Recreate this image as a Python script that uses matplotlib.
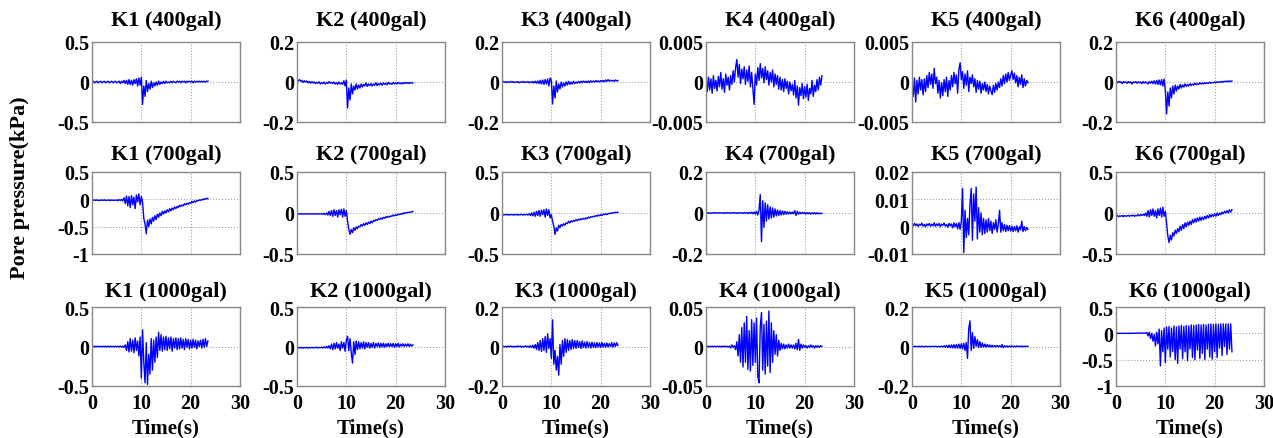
import numpy as np
import matplotlib.pyplot as plt

plt.rcParams['font.family'] = ['Liberation Serif', 'DejaVu Serif']
plt.rcParams['font.weight'] = 'bold'

# time axis, 0.25 s sampling, 0 - 23.5 s
t = np.arange(95) * 0.25

# ---------------- 400 gal ----------------
k1_400 = [0.00, 0.01, -0.01, 0.00, 0.01, -0.01, 0.00, 0.01, -0.01, 0.00,
          0.01, -0.01, 0.00, 0.01, -0.01, 0.00, 0.01, -0.01, 0.00, 0.01,
          -0.01, 0.00, 0.01, -0.02, 0.01, -0.01, 0.02, -0.02, 0.02, -0.03,
          0.03, -0.03, 0.02, -0.04, 0.03, -0.02, 0.04, -0.05, 0.05, -0.04,
          0.06, -0.28, -0.05, -0.18, 0.02, -0.12, -0.02, -0.09, 0.01, -0.07,
          -0.01, -0.05, 0.00, -0.04, 0.01, -0.03, 0.00, -0.02, 0.01, -0.02,
          0.01, -0.01, 0.00, -0.01, 0.01, -0.01, 0.01, 0.00, -0.01, 0.01,
          0.00, 0.01, -0.01, 0.01, 0.00, 0.01, -0.01, 0.01, 0.00, 0.01,
          0.00, 0.01, -0.01, 0.01, 0.00, 0.01, 0.00, 0.01, 0.00, 0.01,
          0.00, 0.01, 0.00, 0.01, 0.01]
k2_400 = [0.01, 0.005, 0.012, 0.004, 0.008, -0.002, 0.006, 0.0, 0.005, -0.004,
          0.003, -0.006, 0.002, -0.004, 0.0, -0.008, -0.002, -0.006, 0.001, -0.01,
          -0.004, -0.008, 0.0, -0.01, -0.003, -0.007, 0.002, -0.006, -0.002, -0.008,
          0.0, -0.01, -0.003, -0.012, 0.0, -0.01, -0.004, -0.012, 0.006, -0.02,
          0.01, -0.13, -0.03, -0.09, -0.01, -0.06, -0.02, -0.04, -0.01, -0.035,
          -0.015, -0.03, -0.01, -0.025, -0.012, -0.02, -0.005, -0.022, -0.01, -0.018,
          -0.008, -0.02, -0.01, -0.016, -0.004, -0.018, -0.008, -0.014, -0.006, -0.016,
          -0.004, -0.012, -0.006, -0.014, -0.002, -0.01, -0.006, -0.012, -0.003, -0.009,
          -0.004, -0.01, -0.002, -0.008, -0.005, -0.01, -0.003, -0.008, -0.002, -0.007,
          -0.003, -0.008, -0.002, -0.006, -0.004]
k3_400 = [0.0, 0.003, -0.002, 0.002, -0.003, 0.001, -0.002, 0.003, -0.001, 0.002,
          -0.003, 0.001, -0.002, 0.002, -0.004, 0.0, -0.002, 0.003, -0.003, 0.001,
          -0.002, 0.002, -0.004, 0.001, -0.003, 0.003, -0.005, 0.004, -0.006, 0.005,
          -0.008, 0.008, -0.01, 0.01, -0.012, 0.012, -0.01, 0.015, -0.02, 0.02,
          0.01, -0.11, -0.02, -0.08, 0.005, -0.05, -0.01, -0.035, 0.0, -0.025,
          -0.005, -0.02, 0.0, -0.015, 0.003, -0.012, 0.0, -0.01, 0.004, -0.008,
          0.0, -0.006, 0.003, -0.005, 0.004, -0.004, 0.005, -0.002, 0.004, -0.003,
          0.005, -0.002, 0.006, 0.0, 0.005, -0.001, 0.007, 0.001, 0.006, 0.0,
          0.007, 0.002, 0.008, 0.001, 0.01, 0.003, 0.012, 0.004, 0.009, 0.005,
          0.008, 0.003, 0.01, 0.005, 0.008]
k4_400 = [-0.0002, -0.0012, 0.0006, -0.0010, 0.0004, -0.0014, 0.0008, -0.0008, 0.0002, -0.0011,
          0.0007, -0.0006, 0.0012, -0.0009, 0.0004, -0.0013, 0.0010, -0.0004, 0.0006, -0.0010,
          0.0008, -0.0003, 0.0014, 0.0000, 0.0018, 0.0028, 0.0006, 0.0022, -0.0002, 0.0016,
          0.0004, 0.0019, -0.0003, 0.0015, 0.0001, 0.0020, -0.0006, 0.0012, -0.0008, -0.0028,
          0.0010, -0.0004, 0.0018, 0.0002, 0.0023, 0.0005, 0.0017, -0.0001, 0.0019, 0.0003,
          0.0014, -0.0004, 0.0012, 0.0000, 0.0015, -0.0006, 0.0010, -0.0003, 0.0008, -0.0009,
          0.0006, -0.0010, 0.0003, -0.0012, 0.0004, -0.0008, 0.0001, -0.0015, 0.0000, -0.0011,
          -0.0003, -0.0016, 0.0002, -0.0020, -0.0005, -0.0029, -0.0007, -0.0017, -0.0002, -0.0021,
          -0.0006, -0.0019, -0.0003, -0.0023, -0.0008, -0.0015, 0.0002, -0.0018, -0.0004, -0.0012,
          0.0003, -0.0010, 0.0006, -0.0004, 0.0008]
k5_400 = [-0.0004, -0.0018, 0.0005, -0.0025, 0.0002, -0.0015, 0.0006, -0.0010, 0.0003, -0.0016,
          0.0004, -0.0012, 0.0008, -0.0007, 0.0012, -0.0003, 0.0010, -0.0008, 0.0017, -0.0002,
          0.0006, -0.0014, 0.0002, -0.0020, -0.0001, -0.0017, 0.0003, -0.0012, 0.0006, -0.0018,
          0.0002, -0.0010, 0.0008, -0.0006, 0.0012, -0.0002, 0.0009, -0.0014, 0.0015, 0.0024,
          0.0003, 0.0013, -0.0008, 0.0010, -0.0004, 0.0014, -0.0012, 0.0006, -0.0002, 0.0009,
          -0.0006, 0.0004, -0.0013, 0.0002, -0.0009, 0.0001, -0.0014, -0.0002, -0.0010, 0.0000,
          -0.0012, -0.0003, -0.0015, -0.0005, -0.0011, -0.0016, -0.0004, -0.0013, -0.0002, -0.0010,
          0.0000, -0.0007, 0.0004, -0.0005, 0.0008, -0.0002, 0.0010, 0.0000, 0.0012, 0.0002,
          0.0009, 0.0014, 0.0003, 0.0011, -0.0001, 0.0008, -0.0006, 0.0006, -0.0003, 0.0009,
          -0.0007, 0.0004, -0.0005, 0.0002, -0.0001]
k6_400 = [0.002, -0.004, 0.003, -0.002, 0.001, -0.008, 0.002, -0.003, 0.0, -0.006,
          0.002, -0.004, 0.001, -0.01, 0.0, -0.003, 0.002, -0.006, 0.001, -0.004,
          0.0, -0.008, 0.002, -0.005, 0.001, -0.004, -0.01, 0.002, -0.006, 0.004,
          -0.008, 0.006, -0.01, 0.008, -0.012, 0.01, -0.015, 0.012, -0.02, 0.015,
          -0.04, -0.16, -0.05, -0.12, -0.03, -0.08, -0.02, -0.06, -0.015, -0.045,
          -0.02, -0.035, -0.012, -0.03, -0.015, -0.025, -0.01, -0.022, -0.012, -0.02,
          -0.008, -0.018, -0.01, -0.015, -0.006, -0.014, -0.008, -0.012, -0.004, -0.01,
          -0.005, -0.01, -0.003, -0.008, -0.004, -0.007, -0.001, -0.006, -0.002, -0.004,
          0.0, -0.004, 0.001, -0.002, 0.002, -0.002, 0.003, 0.0, 0.004, 0.001,
          0.005, 0.001, 0.006, 0.002, 0.005]

# ---------------- 700 gal ----------------
k1_700 = [-0.01, -0.02, -0.01, -0.02, -0.01, -0.02, -0.015, -0.02, -0.01, -0.02,
          -0.01, -0.02, -0.015, -0.02, -0.01, -0.025, -0.01, -0.02, -0.015, -0.02,
          -0.01, -0.025, -0.005, -0.02, 0.0, -0.03, 0.03, -0.08, 0.06, -0.12,
          0.05, -0.15, 0.07, -0.1, 0.04, -0.17, 0.08, -0.05, 0.1, -0.1,
          0.05, -0.05, -0.35, -0.45, -0.63, -0.38, -0.5, -0.36, -0.45, -0.33,
          -0.4, -0.3, -0.37, -0.27, -0.33, -0.25, -0.3, -0.22, -0.27, -0.21,
          -0.25, -0.19, -0.23, -0.17, -0.21, -0.16, -0.19, -0.14, -0.17, -0.13,
          -0.15, -0.11, -0.13, -0.1, -0.12, -0.08, -0.1, -0.07, -0.09, -0.06,
          -0.07, -0.04, -0.06, -0.03, -0.05, -0.02, -0.03, -0.01, -0.02, 0.0,
          -0.01, 0.01, 0.0, 0.02, 0.01]
k2_700 = [-0.01, -0.015, -0.01, -0.012, -0.008, -0.015, -0.01, -0.012, -0.008, -0.014,
          -0.01, -0.012, -0.008, -0.015, -0.01, -0.012, -0.008, -0.014, -0.01, -0.012,
          -0.008, -0.015, -0.005, -0.02, 0.0, -0.025, 0.02, -0.03, 0.03, -0.04,
          0.04, -0.03, 0.03, -0.05, 0.04, -0.02, 0.045, -0.05, 0.05, -0.04,
          0.03, -0.1, -0.2, -0.26, -0.2, -0.24, -0.18, -0.21, -0.17, -0.19,
          -0.16, -0.17, -0.14, -0.16, -0.13, -0.15, -0.12, -0.14, -0.11, -0.13,
          -0.1, -0.12, -0.09, -0.1, -0.08, -0.09, -0.07, -0.08, -0.06, -0.075,
          -0.055, -0.065, -0.045, -0.055, -0.04, -0.05, -0.035, -0.04, -0.025, -0.035,
          -0.02, -0.03, -0.015, -0.02, -0.01, -0.015, 0.0, -0.01, 0.005, 0.0,
          0.01, 0.005, 0.015, 0.01, 0.02]
k3_700 = [-0.02, -0.025, -0.02, -0.022, -0.018, -0.025, -0.02, -0.022, -0.018, -0.024,
          -0.02, -0.022, -0.018, -0.025, -0.02, -0.022, -0.018, -0.024, -0.02, -0.022,
          -0.015, -0.025, -0.01, -0.03, 0.0, -0.035, 0.01, -0.04, 0.02, -0.03,
          0.03, -0.04, 0.035, -0.02, 0.04, -0.05, 0.05, -0.03, 0.04, -0.06,
          -0.02, -0.1, -0.16, -0.26, -0.18, -0.22, -0.15, -0.18, -0.14, -0.16,
          -0.13, -0.15, -0.12, -0.13, -0.1, -0.12, -0.095, -0.11, -0.09, -0.1,
          -0.08, -0.095, -0.075, -0.085, -0.07, -0.08, -0.065, -0.075, -0.06, -0.07,
          -0.05, -0.06, -0.045, -0.05, -0.04, -0.045, -0.03, -0.04, -0.025, -0.035,
          -0.02, -0.03, -0.015, -0.02, -0.01, -0.02, -0.005, -0.01, 0.0, -0.005,
          0.005, 0.0, 0.01, 0.005, 0.01]
k4_700 = [0.0, 0.002, -0.001, 0.001, -0.002, 0.001, 0.0, 0.002, -0.001, 0.001,
          -0.001, 0.002, 0.0, 0.001, -0.002, 0.001, -0.001, 0.002, 0.0, 0.001,
          -0.002, 0.001, 0.0, 0.002, -0.001, 0.001, -0.002, 0.002, 0.0, 0.001,
          -0.002, 0.003, -0.001, 0.002, -0.003, 0.003, -0.002, 0.004, -0.004, 0.005,
          -0.005, 0.008, -0.01, 0.015, 0.09, -0.14, 0.06, -0.07, 0.05, -0.04,
          0.04, -0.03, 0.03, -0.025, 0.025, -0.02, 0.02, -0.015, 0.015, -0.012,
          0.012, -0.01, 0.01, -0.008, 0.008, -0.006, 0.006, -0.005, 0.005, -0.004,
          0.004, -0.004, 0.012, -0.012, 0.008, -0.006, 0.004, -0.004, 0.003, -0.003,
          0.003, -0.005, 0.002, -0.004, 0.002, -0.006, 0.001, -0.004, 0.002, -0.005,
          0.001, -0.004, 0.0, -0.003, -0.002]
k5_700 = [0.0008, 0.0003, 0.0012, 0.0004, 0.0010, 0.0001, 0.0009, 0.0005, 0.0013, 0.0002,
          0.0008, 0.0000, 0.0010, 0.0004, 0.0012, 0.0002, 0.0009, 0.0003, 0.0014, 0.0001,
          0.0010, 0.0004, 0.0012, 0.0000, 0.0009, 0.0005, 0.0013, 0.0002, 0.0008, -0.0002,
          0.0012, 0.0003, 0.0010, -0.0004, 0.0014, 0.0000, 0.0011, -0.0008, 0.0015, -0.0010,
          0.0020, 0.0140, -0.0095, 0.0060, -0.0040, 0.0030, -0.0030, 0.0080, 0.0140, -0.0050,
          0.0120, 0.0020, 0.0145, -0.0045, 0.0070, -0.0020, 0.0050, -0.0030, 0.0030, -0.0025,
          0.0025, -0.0020, 0.0030, -0.0015, 0.0020, -0.0025, 0.0015, -0.0010, 0.0025, -0.0020,
          0.0010, 0.0060, -0.0020, 0.0015, -0.0015, 0.0008, -0.0018, 0.0005, -0.0015, 0.0004,
          -0.0016, 0.0002, -0.0018, 0.0000, -0.0015, 0.0003, -0.0020, 0.0000, -0.0012, 0.0020,
          -0.0018, 0.0000, -0.0015, -0.0003, -0.0010]
k6_700 = [-0.04, -0.03, -0.045, -0.035, -0.04, -0.03, -0.045, -0.03, -0.04, -0.035,
          -0.03, -0.04, -0.03, -0.035, -0.025, -0.04, -0.03, -0.035, -0.02, -0.035,
          -0.02, -0.03, -0.015, -0.03, 0.0, -0.04, 0.03, -0.05, 0.04, -0.03,
          0.05, -0.04, 0.03, -0.06, 0.05, -0.03, 0.06, -0.05, 0.07, -0.04,
          0.02, -0.12, -0.28, -0.36, -0.27, -0.33, -0.24, -0.28, -0.21, -0.25,
          -0.19, -0.23, -0.16, -0.21, -0.14, -0.19, -0.12, -0.17, -0.11, -0.15,
          -0.1, -0.14, -0.08, -0.12, -0.07, -0.11, -0.06, -0.1, -0.05, -0.09,
          -0.05, -0.08, -0.04, -0.07, -0.03, -0.06, -0.02, -0.05, -0.02, -0.04,
          -0.01, -0.04, 0.0, -0.03, 0.0, -0.02, 0.01, -0.01, 0.02, 0.0,
          0.03, 0.0, 0.04, 0.01, 0.04]

# ---------------- 1000 gal ----------------
k1_1000 = [0.0, 0.005, -0.005, 0.003, -0.004, 0.005, -0.003, 0.004, -0.005, 0.003,
           -0.004, 0.005, -0.006, 0.004, -0.005, 0.006, -0.004, 0.003, -0.006, 0.005,
           -0.005, 0.004, -0.006, 0.005, -0.008, 0.006, -0.01, 0.02, -0.05, 0.06,
           -0.07, 0.1, -0.06, 0.08, -0.08, 0.11, -0.05, 0.07, -0.12, 0.12,
           -0.4, 0.21, -0.2, -0.46, 0.05, -0.48, -0.1, -0.35, 0.1, -0.3,
           0.08, -0.2, 0.12, -0.14, 0.18, -0.05, 0.15, -0.06, 0.12, -0.04,
           0.13, -0.05, 0.11, -0.03, 0.12, -0.06, 0.1, -0.02, 0.11, -0.04,
           0.1, -0.03, 0.11, -0.02, 0.09, -0.04, 0.1, -0.01, 0.09, -0.03,
           0.08, -0.02, 0.09, -0.01, 0.08, -0.03, 0.07, 0.0, 0.08, -0.02,
           0.09, -0.01, 0.1, 0.0, 0.07]
k2_1000 = [-0.01, -0.02, -0.012, -0.018, -0.01, -0.02, -0.012, -0.018, -0.01, -0.02,
           -0.012, -0.018, -0.01, -0.02, -0.012, -0.016, -0.008, -0.02, -0.01, -0.015,
           -0.008, -0.02, -0.005, -0.018, 0.0, -0.02, 0.01, -0.03, 0.03, -0.04,
           0.04, -0.03, 0.05, -0.02, 0.03, -0.05, 0.06, -0.02, 0.05, -0.06,
           0.08, 0.13, -0.05, 0.1, -0.08, -0.21, 0.06, -0.1, 0.07, -0.04,
           0.06, -0.03, 0.05, -0.02, 0.06, -0.03, 0.05, -0.01, 0.05, -0.02,
           0.04, -0.01, 0.05, -0.02, 0.04, 0.0, 0.045, -0.01, 0.04, -0.005,
           0.04, -0.01, 0.035, 0.0, 0.04, -0.005, 0.035, 0.0, 0.04, -0.01,
           0.035, 0.0, 0.04, -0.005, 0.03, 0.005, 0.035, 0.0, 0.03, 0.005,
           0.035, 0.0, 0.03, 0.005, 0.02]
k3_1000 = [0.0, 0.002, -0.002, 0.001, -0.003, 0.002, -0.001, 0.003, -0.002, 0.001,
           -0.003, 0.002, -0.002, 0.003, -0.001, 0.002, -0.003, 0.001, -0.002, 0.003,
           -0.002, 0.002, -0.004, 0.004, -0.005, 0.006, -0.008, 0.01, -0.015, 0.02,
           -0.02, 0.03, -0.025, 0.04, -0.02, 0.05, -0.03, 0.065, -0.01, 0.04,
           -0.06, 0.135, -0.09, -0.02, -0.12, -0.05, -0.145, 0.01, -0.09, 0.03,
           -0.05, 0.04, -0.03, 0.035, -0.02, 0.03, -0.015, 0.035, -0.01, 0.03,
           -0.01, 0.03, -0.005, 0.025, -0.01, 0.028, -0.005, 0.022, -0.008, 0.025,
           -0.005, 0.02, -0.008, 0.022, -0.004, 0.018, -0.006, 0.02, -0.003, 0.018,
           -0.005, 0.02, -0.002, 0.016, -0.004, 0.018, -0.002, 0.015, 0.0, 0.02,
           -0.004, 0.018, 0.0, 0.02, 0.005]
k4_1000 = [0.0, 0.0005, -0.0005, 0.0003, -0.0004, 0.0005, -0.0003, 0.0004, -0.0005, 0.0003,
           -0.0004, 0.0005, -0.0006, 0.0004, -0.0005, 0.0006, -0.0004, 0.0003, -0.0006, 0.0005,
           -0.002, 0.002, -0.001, 0.001, -0.004, 0.006, -0.012, 0.015, -0.02, 0.024,
           -0.026, 0.03, -0.02, 0.038, -0.029, 0.02, -0.031, 0.034, -0.024, 0.03,
           -0.02, 0.036, -0.038, -0.046, 0.025, 0.043, -0.03, 0.028, -0.035, 0.032,
           -0.025, 0.045, -0.033, 0.03, -0.02, 0.02, -0.01, 0.015, -0.012, 0.008,
           -0.005, 0.004, -0.003, 0.003, -0.003, 0.002, -0.002, 0.003, -0.002, 0.002,
           -0.002, 0.002, -0.003, 0.004, -0.004, 0.009, -0.005, 0.003, -0.002, 0.002,
           -0.001, 0.001, -0.002, 0.001, -0.001, 0.002, -0.001, 0.001, -0.002, 0.001,
           -0.001, 0.001, -0.001, 0.001, 0.0]
k5_1000 = [0.0, 0.001, -0.001, 0.001, -0.001, 0.0, 0.001, -0.001, 0.001, 0.0,
           -0.001, 0.001, 0.0, -0.001, 0.001, -0.001, 0.0, 0.001, -0.001, 0.001,
           0.0, -0.001, 0.001, -0.002, 0.002, -0.003, 0.004, -0.004, 0.006, -0.005,
           0.007, -0.006, 0.008, -0.007, 0.009, -0.008, 0.01, -0.008, 0.012, -0.01,
           0.014, -0.012, 0.016, -0.02, 0.02, -0.06, 0.09, 0.13, -0.02, 0.07,
           -0.01, 0.05, 0.0, 0.035, -0.005, 0.025, -0.004, 0.018, -0.003, 0.012,
           -0.003, 0.01, -0.002, 0.008, -0.003, 0.006, -0.002, 0.005, -0.002, 0.005,
           -0.002, 0.004, -0.003, 0.01, -0.006, 0.004, -0.002, 0.003, -0.002, 0.003,
           -0.002, 0.003, -0.001, 0.002, -0.002, 0.003, -0.001, 0.002, -0.001, 0.003,
           -0.002, 0.002, -0.001, 0.002, 0.0]
k6_1000 = [0.0, 0.002, -0.002, 0.001, -0.001, 0.002, -0.001, 0.001, -0.002, 0.001,
           0.0, 0.002, -0.001, 0.003, 0.0, 0.004, 0.002, 0.005, 0.003, 0.006,
           0.004, 0.006, 0.003, 0.005, 0.0, 0.02, -0.05, 0.02, -0.1, 0.0,
           -0.15, -0.02, -0.24, 0.02, -0.2, 0.08, -0.62, 0.05, -0.35, 0.1,
           -0.56, 0.12, -0.3, 0.13, -0.45, 0.1, -0.35, 0.14, -0.5, 0.12,
           -0.57, 0.14, -0.3, 0.15, -0.48, 0.13, -0.35, 0.15, -0.52, 0.14,
           -0.3, 0.16, -0.46, 0.15, -0.5, 0.16, -0.32, 0.17, -0.48, 0.16,
           -0.38, 0.17, -0.5, 0.16, -0.3, 0.17, -0.45, 0.18, -0.49, 0.17,
           -0.35, 0.18, -0.46, 0.17, -0.28, 0.18, -0.42, 0.18, -0.25, 0.18,
           -0.4, 0.18, -0.3, 0.18, -0.35]

rows = [
    ('400gal', [k1_400, k2_400, k3_400, k4_400, k5_400, k6_400]),
    ('700gal', [k1_700, k2_700, k3_700, k4_700, k5_700, k6_700]),
    ('1000gal', [k1_1000, k2_1000, k3_1000, k4_1000, k5_1000, k6_1000]),
]

yticks = [
    [[-0.5, 0, 0.5], [-0.2, 0, 0.2], [-0.2, 0, 0.2],
     [-0.005, 0, 0.005], [-0.005, 0, 0.005], [-0.2, 0, 0.2]],
    [[-1, -0.5, 0, 0.5], [-0.5, 0, 0.5], [-0.5, 0, 0.5],
     [-0.2, 0, 0.2], [-0.01, 0, 0.01, 0.02], [-0.5, 0, 0.5]],
    [[-0.5, 0, 0.5], [-0.5, 0, 0.5], [-0.2, 0, 0.2],
     [-0.05, 0, 0.05], [-0.2, 0, 0.2], [-1, -0.5, 0, 0.5]],
]
xticks = [0, 10, 20, 30]

W, H = 1273, 439
fig = plt.figure(figsize=(W / 100, H / 100), dpi=100)

col_left = [92, 297, 502, 706, 912, 1116]
ax_w = 148
row_box = [(43, 123), (173, 255), (308, 387)]
title_pad = [12, 9, 8]


def fmt(v):
    if v == 0:
        return '0'
    return ('%g' % v)


for r, (gal, series) in enumerate(rows):
    top, bot = row_box[r]
    for c, y in enumerate(series):
        ax = fig.add_axes([col_left[c] / W, 1 - bot / H, ax_w / W, (bot - top) / H])
        ax.plot(t, y, color='#0000ff', lw=1.0)
        ax.set_xlim(0, 30)
        yt = yticks[r][c]
        ax.set_ylim(yt[0], yt[-1])
        ax.set_yticks(yt)
        ax.set_yticklabels([fmt(v) for v in yt])
        ax.set_xticks(xticks)
        ax.grid(True, linestyle=':', color='#a0a0a0', lw=0.8)
        ax.tick_params(axis='y', length=0, labelsize=14.5, pad=2)
        ax.tick_params(axis='x', length=0, labelsize=14.5, pad=5)
        for s in ax.spines.values():
            s.set_color('#888888')
            s.set_linewidth(1.0)
        if r < 2:
            ax.set_xticklabels([])
        else:
            ax.set_xlabel('Time(s)', fontsize=15, fontweight='bold', labelpad=3)
        ax.set_title('K%d (%s)' % (c + 1, gal), fontsize=16, fontweight='bold',
                     pad=title_pad[r])

fig.text(20 / W, 1 - 188 / H, 'Pore pressure(kPa)', rotation=90, fontsize=16,
         fontweight='bold', ha='center', va='center')

fig.savefig('out.png', dpi=100)
